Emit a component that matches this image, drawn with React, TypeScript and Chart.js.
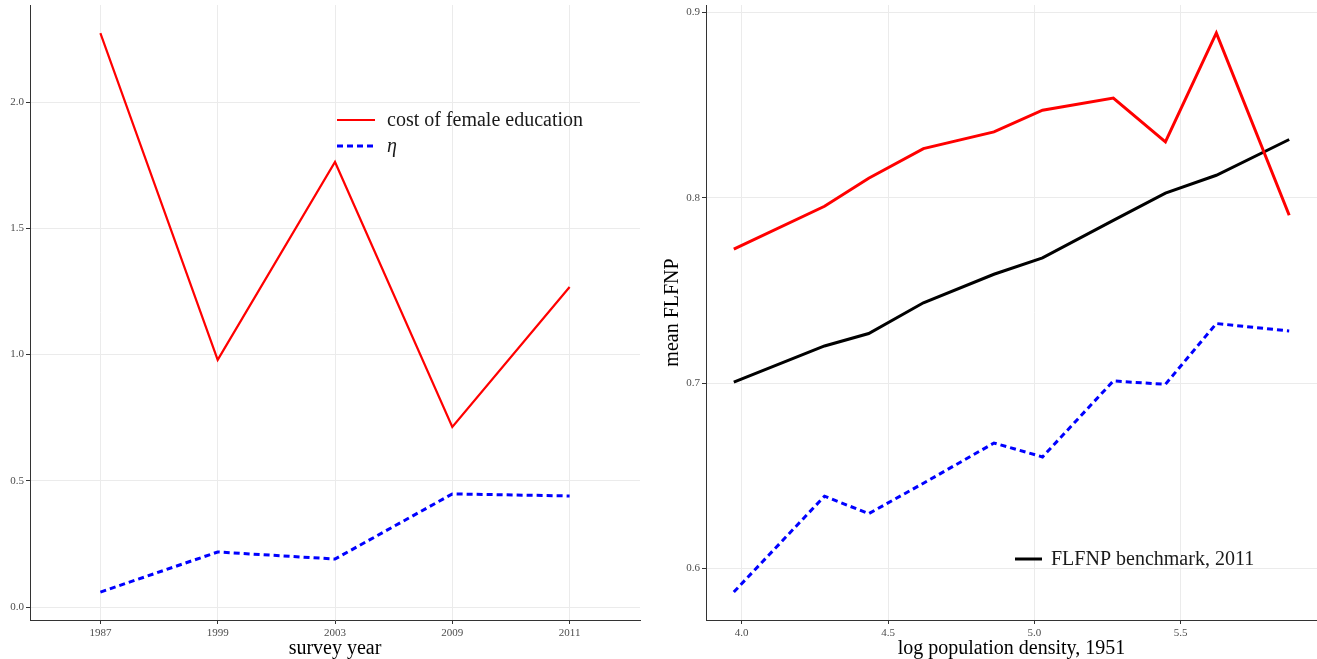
import React, { useEffect, useRef } from 'react';
import { Chart, registerables } from 'chart.js';

Chart.register(...registerables);

const FONT = '"Liberation Serif", "DejaVu Serif", serif';

// ---- left panel data ----
const surveyYears = ['1987', '1999', '2003', '2009', '2011'];
const costFemaleEducation = [2.274, 0.979, 1.763, 0.713, 1.268];
const etaByYear = [0.059, 0.218, 0.19, 0.448, 0.44];
const leftYTicks = [0, 0.5, 1, 1.5, 2];

// ---- right panel data ----
const logDensity = [3.973, 4.283, 4.434, 4.621, 4.862, 5.028, 5.27, 5.448, 5.622, 5.871];
const costByDensity = [0.7723, 0.7954, 0.8105, 0.8265, 0.8355, 0.8472, 0.8538, 0.8301, 0.8889, 0.7905];
const benchmark2011 = [0.7005, 0.72, 0.7267, 0.7433, 0.7587, 0.7675, 0.7878, 0.8025, 0.8121, 0.8314];
const etaByDensity = [0.5872, 0.6389, 0.6295, 0.6459, 0.6676, 0.6601, 0.7011, 0.6993, 0.7321, 0.7281];
const rightXTicks = [4, 4.5, 5, 5.5];
const rightYTicks = [0.6, 0.7, 0.8, 0.9];

const TICK_FONT = { family: FONT, size: 11 };
const YTICK_FONT = { family: FONT, size: 11, lineHeight: '6px' };
const TICK_COLOR = '#4d4d4d';
const GRID_COLOR = '#ebebeb';
const TITLE_SIZE = 20;
const XTITLE_FONT = { family: FONT, size: TITLE_SIZE, lineHeight: 1.0 };

const inlineLegend = {
  id: 'inlineLegend',
  afterDatasetsDraw(chart: any, _args: any, opts: any) {
    if (!opts || !opts.datasets) return;
    const ctx = chart.ctx;
    ctx.save();
    opts.datasets.forEach((di: number, i: number) => {
      const ds = chart.data.datasets[di];
      const y = opts.y + i * opts.rowGap;
      ctx.beginPath();
      ctx.strokeStyle = ds.borderColor;
      ctx.lineWidth = ds.borderWidth;
      ctx.setLineDash(ds.borderDash || []);
      ctx.moveTo(opts.x, y);
      ctx.lineTo(opts.x + opts.sample, y);
      ctx.stroke();
      ctx.setLineDash([]);
      const italic = opts.italic && opts.italic[i];
      ctx.font = `${italic ? 'italic ' : ''}${opts.fontSize}px ${FONT}`;
      ctx.fillStyle = '#1a1a1a';
      ctx.textBaseline = 'middle';
      ctx.textAlign = 'left';
      ctx.fillText(ds.label, opts.x + opts.sample + opts.gap, y + 1);
    });
    ctx.restore();
  },
};

function axisBase() {
  return {
    grid: { color: GRID_COLOR, tickColor: '#333333', tickLength: 4, lineWidth: 1 },
    border: { display: true, color: '#333333', width: 1 },
  };
}

export default function App() {
  const leftRef = useRef<HTMLCanvasElement | null>(null);
  const rightRef = useRef<HTMLCanvasElement | null>(null);

  useEffect(() => {
    const left = new Chart(leftRef.current as HTMLCanvasElement, {
      type: 'line',
      data: {
        datasets: [
          {
            label: 'cost of female education',
            data: costFemaleEducation.map((v, i) => ({ x: i, y: v })),
            borderColor: '#ff0000',
            borderWidth: 2.2,
            pointRadius: 0,
            tension: 0,
          },
          {
            label: 'η',
            data: etaByYear.map((v, i) => ({ x: i, y: v })),
            borderColor: '#0000ff',
            borderWidth: 3,
            borderDash: [6, 4],
            pointRadius: 0,
            tension: 0,
          },
        ],
      },
      options: {
        responsive: false,
        animation: false,
        layout: { padding: { top: 4, right: 15, left: 0, bottom: 0 } },
        plugins: {
          legend: { display: false },
          tooltip: { enabled: false },
          inlineLegend: { datasets: [0, 1], x: 337, y: 120, rowGap: 26, sample: 38, gap: 12, fontSize: TITLE_SIZE, italic: [false, true] },
        } as any,
        scales: {
          x: {
            type: 'linear',
            min: -0.6,
            max: 4.6,
            ...axisBase(),
            afterBuildTicks: (s: any) => {
              s.ticks = surveyYears.map((_, i) => ({ value: i }));
            },
            afterFit: (s: any) => {
              s.height = 39;
            },
            ticks: {
              autoSkip: false,
              maxRotation: 0,
              padding: 3,
              font: TICK_FONT,
              color: TICK_COLOR,
              callback: (v: any) => surveyYears[v] ?? '',
            },
            title: { display: true, text: 'survey year', font: XTITLE_FONT, color: '#000', padding: { top: 0, bottom: 0 } },
          },
          y: {
            type: 'linear',
            min: -0.0515,
            max: 2.385,
            ...axisBase(),
            afterBuildTicks: (s: any) => {
              s.ticks = leftYTicks.map((v) => ({ value: v }));
            },
            afterFit: (s: any) => {
              s.width = 30;
            },
            ticks: {
              padding: 2,
              font: YTICK_FONT,
              color: TICK_COLOR,
              callback: (v: any) => Number(v).toFixed(1),
            },
          },
        },
      },
      plugins: [inlineLegend],
    } as any);

    const right = new Chart(rightRef.current as HTMLCanvasElement, {
      type: 'line',
      data: {
        datasets: [
          {
            label: 'cost of female education',
            data: costByDensity.map((v, i) => ({ x: logDensity[i], y: v })),
            borderColor: '#ff0000',
            borderWidth: 3,
            pointRadius: 0,
            tension: 0,
          },
          {
            label: 'FLFNP benchmark, 2011',
            data: benchmark2011.map((v, i) => ({ x: logDensity[i], y: v })),
            borderColor: '#000000',
            borderWidth: 3,
            pointRadius: 0,
            tension: 0,
          },
          {
            label: 'η',
            data: etaByDensity.map((v, i) => ({ x: logDensity[i], y: v })),
            borderColor: '#0000ff',
            borderWidth: 3,
            borderDash: [6, 4],
            pointRadius: 0,
            tension: 0,
          },
        ],
      },
      options: {
        responsive: false,
        animation: false,
        layout: { padding: { top: 4, right: 0, left: 0, bottom: 0 } },
        plugins: {
          legend: { display: false },
          tooltip: { enabled: false },
          inlineLegend: { datasets: [1], x: 360, y: 559, rowGap: 26, sample: 27, gap: 9, fontSize: TITLE_SIZE },
        } as any,
        scales: {
          x: {
            type: 'linear',
            min: 3.878,
            max: 5.966,
            ...axisBase(),
            afterBuildTicks: (s: any) => {
              s.ticks = rightXTicks.map((v) => ({ value: v }));
            },
            afterFit: (s: any) => {
              s.height = 39;
            },
            ticks: {
              autoSkip: false,
              maxRotation: 0,
              padding: 3,
              font: TICK_FONT,
              color: TICK_COLOR,
              callback: (v: any) => Number(v).toFixed(1),
            },
            title: { display: true, text: 'log population density, 1951', font: XTITLE_FONT, color: '#000', padding: { top: 0, bottom: 0 } },
          },
          y: {
            type: 'linear',
            min: 0.5721,
            max: 0.904,
            ...axisBase(),
            afterBuildTicks: (s: any) => {
              s.ticks = rightYTicks.map((v) => ({ value: v }));
            },
            afterFit: (s: any) => {
              s.width = 51;
            },
            ticks: {
              padding: 2,
              font: YTICK_FONT,
              color: TICK_COLOR,
              callback: (v: any) => Number(v).toFixed(1),
            },
            title: { display: true, text: 'mean FLFNP', font: { family: FONT, size: TITLE_SIZE }, color: '#000', padding: { top: 6, bottom: 0 } },
          },
        },
      },
      plugins: [inlineLegend],
    } as any);

    return () => {
      left.destroy();
      right.destroy();
    };
  }, []);

  return (
    <div style={{ position: 'fixed', left: 0, top: 0, width: 1317, height: 659, background: '#fff', overflow: 'hidden' }}>
      <canvas ref={leftRef} width={655} height={659} style={{ position: 'absolute', left: 0, top: 0 }} />
      <canvas ref={rightRef} width={662} height={659} style={{ position: 'absolute', left: 655, top: 0 }} />
    </div>
  );
}
